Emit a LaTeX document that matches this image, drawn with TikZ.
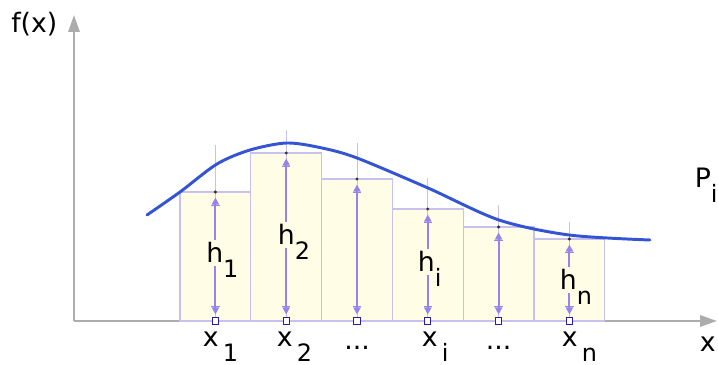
\documentclass[tikz,border=0pt]{standalone}
\usepackage{fontspec}
\setmainfont{DejaVu Sans}
\usetikzlibrary{arrows.meta}
\definecolor{axisgray}{RGB}{172,172,172}
\definecolor{barfill}{RGB}{255,253,230}
\definecolor{baredge}{RGB}{200,192,238}
\definecolor{harrow}{RGB}{150,132,236}
\definecolor{sqblue}{RGB}{42,30,160}
\definecolor{curveblue}{RGB}{52,84,212}
\newcommand{\lo}[1]{\smash{\raisebox{-10pt}{\fontsize{17}{20}\selectfont #1}}}

\begin{document}
\begin{tikzpicture}[x=0.025cm, y=-0.025cm, lbl/.style={inner sep=0pt, anchor=base west, font=\fontsize{19}{22}\selectfont}, hlbl/.style={lbl, fill=barfill, inner ysep=2pt}, axisline/.style={draw=axisgray, line width=1.4pt, -{Triangle[width=8pt,length=12pt]}}, bar/.style={fill=barfill, draw=baredge, line width=0.9pt}, mid/.style={draw=baredge, line width=0.7pt}, curve/.style={draw=curveblue, line width=2.1pt, line cap=round}, foot/.style={draw=sqblue, fill=white, line width=0.8pt, inner sep=0pt, minimum size=4.4pt}, hdot/.style={circle, fill=black!80, inner sep=0pt, minimum size=2.4pt}, harr/.style={draw=harrow, line width=1.4pt, shorten <=2pt, shorten >=2.5pt, {Triangle[width=5pt,length=5pt]Bar[width=6pt,line width=1pt]}-{Bar[width=6pt,line width=1pt]Triangle[width=5pt,length=5pt]}}]
\useasboundingbox (0,0) rectangle (718,365);
% axes
\coordinate (O) at (74,321); \coordinate (xtip) at (717,321); \coordinate (ytip) at (74,15);
\draw[axisline] (O) -- (xtip); \draw[axisline] (O) -- (ytip);
% bars
\draw[bar] (180,321) rectangle (250.8,192); \draw[bar] (250.8,321) rectangle (321.6,153); \draw[bar] (321.6,321) rectangle (392.4,179);
\draw[bar] (392.4,321) rectangle (463.2,209); \draw[bar] (463.2,321) rectangle (534,227); \draw[bar] (534,321) rectangle (604.8,239);
\draw[mid] (215.4,321) -- (215.4,145); \draw[mid] (286.2,321) -- (286.2,130); \draw[mid] (357,321) -- (357,143);
\draw[mid] (427.8,321) -- (427.8,178); \draw[mid] (498.6,321) -- (498.6,205); \draw[mid] (569.4,321) -- (569.4,222);
% density
\draw[curve] plot[smooth, tension=0.5] coordinates {(147,215) (180,192) (217,164) (250,150) (287,143) (322,148) (357,158) (428,188) (499,220) (569,235) (650,240)};
% heights
\node[foot] (b1) at (215.4,321) {}; \node[hdot] (t1) at (215.4,192) {}; \draw[harr] (b1) -- (t1);
\node[foot] (b2) at (286.2,321) {}; \node[hdot] (t2) at (286.2,153) {}; \draw[harr] (b2) -- (t2);
\node[foot] (b3) at (357,321) {}; \node[hdot] (t3) at (357,179) {}; \draw[harr] (b3) -- (t3);
\node[foot] (b4) at (427.8,321) {}; \node[hdot] (t4) at (427.8,209) {}; \draw[harr] (b4) -- (t4);
\node[foot] (b5) at (498.6,321) {}; \node[hdot] (t5) at (498.6,227) {}; \draw[harr] (b5) -- (t5);
\node[foot] (b6) at (569.4,321) {}; \node[hdot] (t6) at (569.4,239) {}; \draw[harr] (b6) -- (t6);
% labels
\node[lbl] (fx) at (11,33) {f(x)};
\node[lbl] (xl) at (699.5,352) {x};
\node[lbl] (pi) at (694.5,188) {P\lo{i}};
\node[hlbl] (h1) at (206,263) {h\lo{1}}; \node[hlbl] (h2) at (277.6,245) {h\lo{2}};
\node[hlbl] (hi) at (417.6,272) {h\lo{i}}; \node[hlbl] (hn) at (559.6,290) {h\lo{n}};
\node[lbl] (x1) at (202.5,347) {x\kern3pt\lo{1}}; \node[lbl] (x2) at (276.5,347) {x\kern3pt\lo{2}};
\node[lbl, anchor=base] (d1) at (357,350) {...};
\node[lbl] (xi) at (421.5,347) {x\kern3pt\lo{i}};
\node[lbl, anchor=base] (d2) at (498.6,350) {...};
\node[lbl] (xn) at (561.5,347) {x\kern3pt\lo{n}};
\end{tikzpicture}
\end{document}
